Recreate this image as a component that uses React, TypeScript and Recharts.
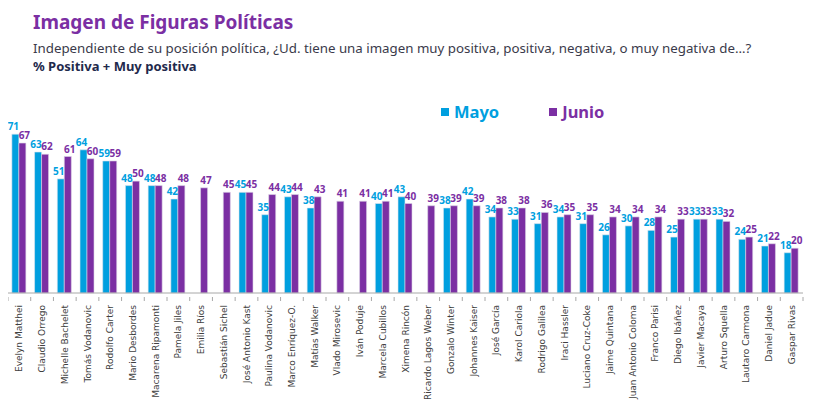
import { Bar, BarChart, LabelList, XAxis, YAxis } from "recharts";

const names = [
  "Evelyn Matthei", "Claudio Orrego", "Michelle Bachelet", "Tomás Vodanovic", "Rodolfo Carter",
  "Mario Desbordes", "Macarena Ripamonti", "Pamela Jiles", "Emilia Ríos", "Sebastián  Sichel",
  "José Antonio Kast", "Paulina Vodanovic", "Marco Enríquez-O.", "Matías Walker", "Vlado Mirosevic",
  "Iván Poduje", "Marcela Cubillos", "Ximena Rincón", "Ricardo Lagos Weber", "Gonzalo Winter",
  "Johannes Kaiser", "José García", "Karol Cariola", "Rodrigo Galilea", "Iraci Hassler",
  "Luciano Cruz-Coke", "Jaime Quintana", "Juan Antonio Coloma", "Franco Parisi", "Diego Ibáñez",
  "Javier Macaya", "Arturo Squella", "Lautaro Carmona", "Daniel Jadue", "Gaspar Rivas",
];

const mayo = [
  71, 63, 51, 64, 59, 48, 48, 42, null, null, 45, 35, 43, 38, null, null, 40, 43,
  null, 38, 42, 34, 33, 31, 34, 31, 26, 30, 28, 25, 33, 33, 24, 21, 18,
];

const junio = [
  67, 62, 61, 60, 59, 50, 48, 48, 47, 45, 45, 44, 44, 43, 41, 41, 41, 40,
  39, 39, 39, 38, 38, 36, 35, 35, 34, 34, 34, 33, 33, 32, 25, 22, 20,
];

const BLUE = "#009fdf";
const PURPLE = "#7b2fa3";
const FONT = "'Noto Sans', 'Open Sans', sans-serif";

const data = names.map((name, i) => ({ name, mayo: mayo[i], junio: junio[i] }));

const W = 818;
const H = 409;
const LEFT = 8;
const RIGHT = 15;
const BAND = (W - LEFT - RIGHT) / names.length;

// etiqueta rotada + marcas entre categorías
const NameTick = ({ x, y, payload, index }: any) => {
  const last = index === names.length - 1;
  return (
    <g>
      <line x1={x - BAND / 2} x2={x - BAND / 2} y1={y - 4} y2={y} stroke="#a8a8a8" />
      {last && <line x1={x + BAND / 2} x2={x + BAND / 2} y1={y - 4} y2={y} stroke="#a8a8a8" />}
      <text
        x={0}
        y={0}
        transform={`translate(${x + 3},${y + 4}) rotate(-90)`}
        textAnchor="end"
        fontSize={9}
        fontFamily="'DejaVu Sans', sans-serif"
        fill="#404040"
      >
        {payload.value}
      </text>
    </g>
  );
};

const makeLabel = (color: string, dx: number) => (props: any) => {
  const { x, y, width, value } = props;
  if (value == null) return null;
  return (
    <text
      x={x + width / 2 + dx}
      y={y - 4}
      textAnchor="middle"
      fontSize={10}
      fontWeight={700}
      fontFamily={FONT}
      fill={color}
    >
      {value}
    </text>
  );
};

export default function App() {
  return (
    <div style={{ position: "relative", width: W, height: H, margin: -8, background: "#fff", fontFamily: FONT }}>
      <div style={{ position: "absolute", left: 33, top: 9, fontSize: 19, fontWeight: 700, color: "#7b2fa3" }}>
        Imagen de Figuras Políticas
      </div>
      <div style={{ position: "absolute", left: 33, top: 41, fontSize: 13.3, lineHeight: "14px", color: "#3a3a4a", whiteSpace: "nowrap" }}>
        Independiente de su posición política, ¿Ud. tiene una imagen muy positiva, positiva, negativa, o muy negativa de…?
      </div>
      <div style={{ position: "absolute", left: 33, top: 59, fontSize: 13, lineHeight: "14px", fontWeight: 700, color: "#1f2a4c" }}>
        % Positiva + Muy positiva
      </div>
      <div style={{ position: "absolute", left: 441, top: 100, display: "flex", alignItems: "center", fontSize: 16.5, fontWeight: 700 }}>
        <span style={{ width: 8, height: 8, background: BLUE, marginRight: 5 }} />
        <span style={{ color: BLUE }}>Mayo</span>
        <span style={{ width: 8, height: 8, background: PURPLE, marginLeft: 50, marginRight: 5 }} />
        <span style={{ color: PURPLE }}>Junio</span>
      </div>
      <div style={{ position: "absolute", left: 0, top: 0 }}>
        <BarChart
          width={W}
          height={H}
          data={data}
          margin={{ top: 114, right: RIGHT, bottom: 0, left: LEFT }}
          barCategoryGap="17%"
          barGap={0}
        >
          <XAxis
            dataKey="name"
            interval={0}
            height={116}
            stroke="#a8a8a8"
            tickLine={false}
            tick={<NameTick />}
          />
          <YAxis hide domain={[0, 80]} />
          <Bar dataKey="mayo" fill={BLUE} stroke="#dfe6ee" strokeWidth={0.6} isAnimationActive={false}>
            <LabelList dataKey="mayo" content={makeLabel(BLUE, -2)} />
          </Bar>
          <Bar dataKey="junio" fill={PURPLE} stroke="#dcd3e6" strokeWidth={0.6} isAnimationActive={false}>
            <LabelList dataKey="junio" content={makeLabel(PURPLE, 2)} />
          </Bar>
        </BarChart>
      </div>
    </div>
  );
}
